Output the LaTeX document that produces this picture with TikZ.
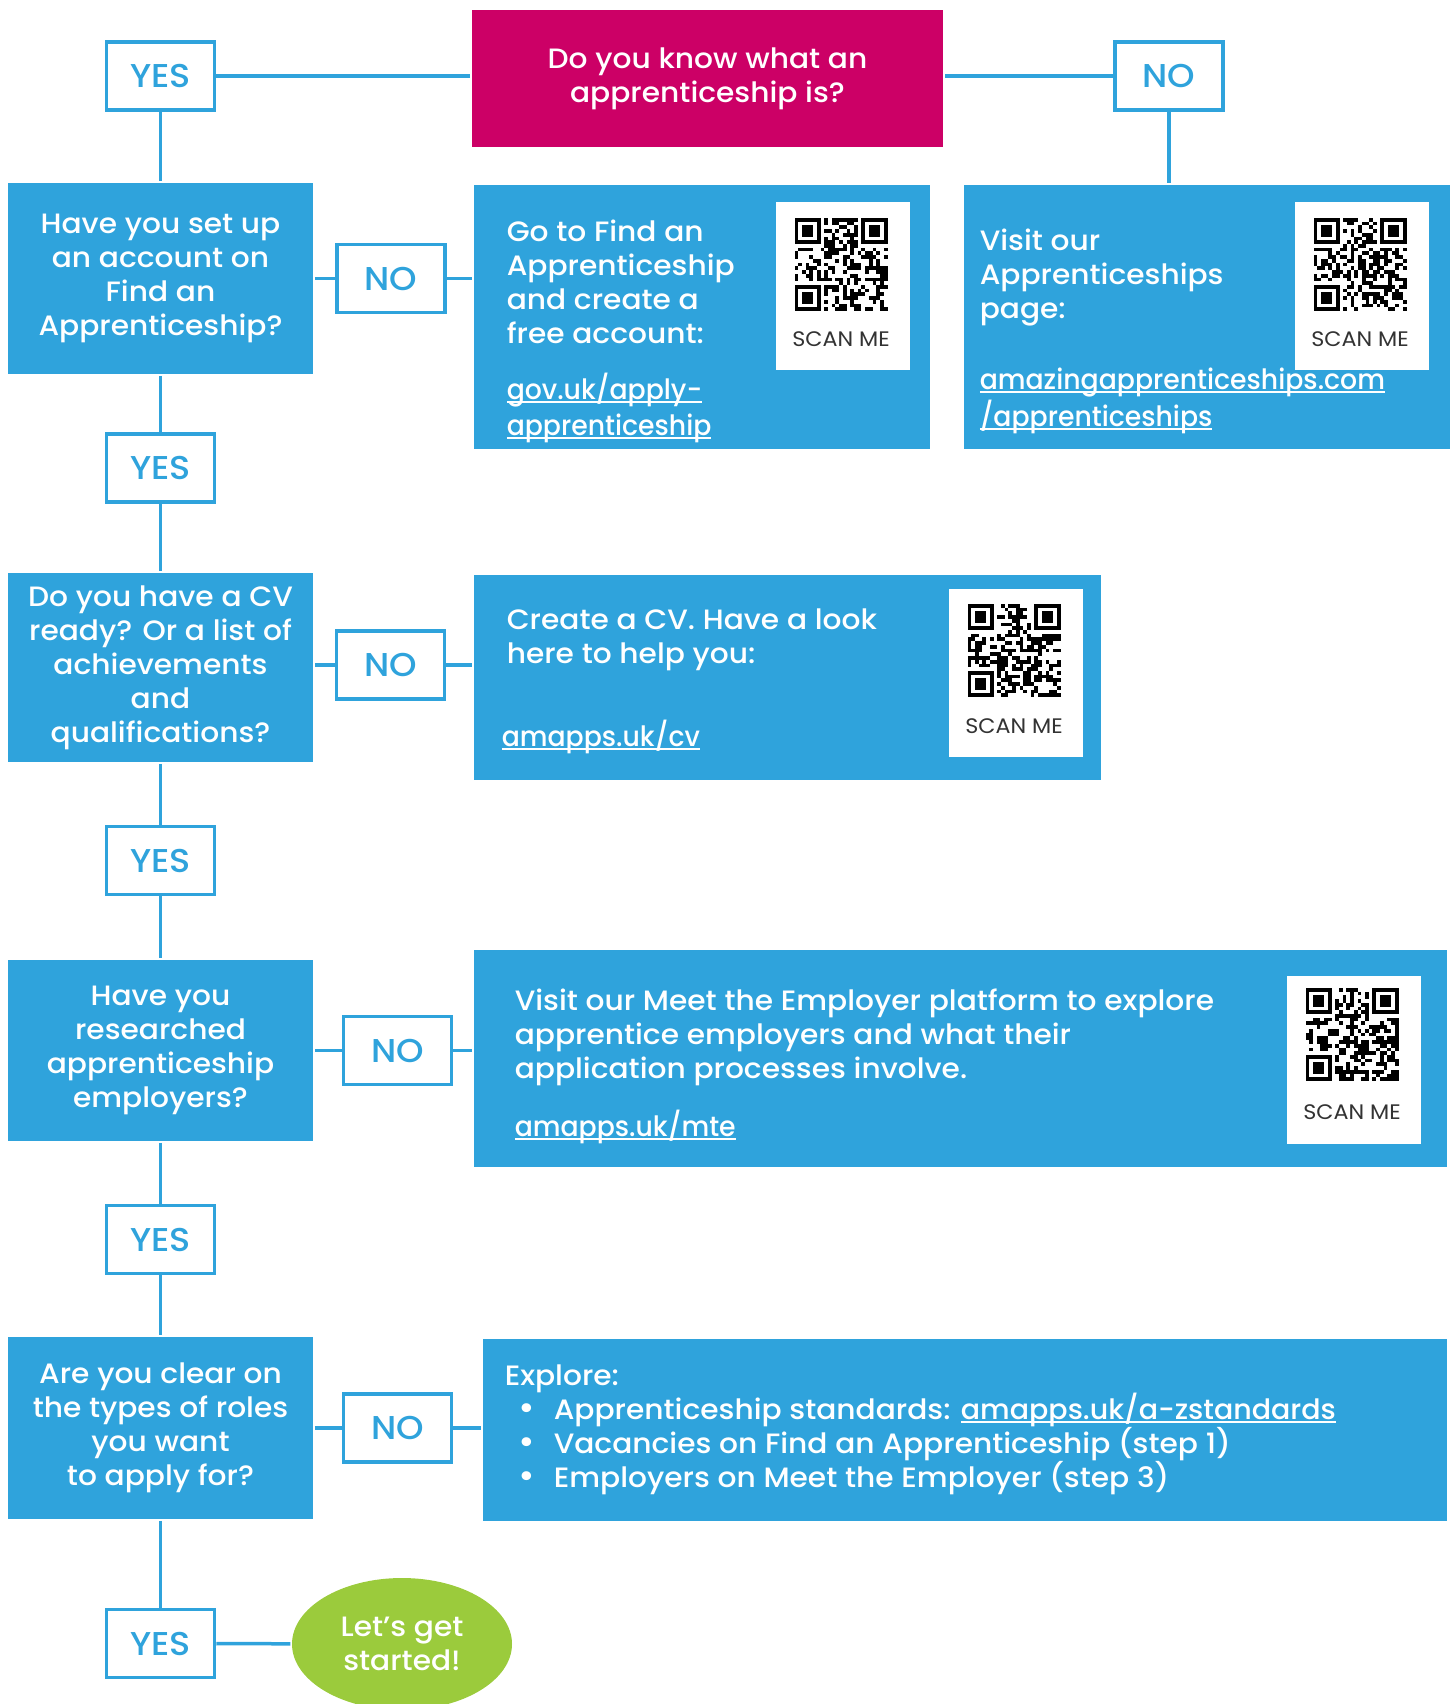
\documentclass[tikz,border=0pt]{standalone}
\usepackage{graphicx}
\usepackage{fontspec}
\setmainfont{Poppins}[UprightFont={* Medium},FakeStretch=1.06]
\newfontfamily\scanfont{Poppins}[FakeStretch=1.06]
\usetikzlibrary{shapes.geometric}
\definecolor{apblue}{HTML}{2FA3DC}
\definecolor{appink}{HTML}{CC0066}
\definecolor{apgreen}{HTML}{9BCB3C}
\definecolor{scangrey}{HTML}{333333}
\newcommand{\bigtxt}{\fontsize{28}{34}\selectfont}
\newcommand{\lnk}[2][0.9]{\setbox0\hbox{\scalebox{#1}[1]{#2}}\rlap{\rule[-4pt]{\wd0}{2pt}}\box0}
\newcommand{\blt}{\hspace*{14pt}\makebox[35pt][l]{\fontsize{34}{34}\selectfont\textbullet}}

% a made-up qr pattern, 25 x 25 modules
\tikzset{
  qr/.pic={
    \foreach \fx/\fy in {0/0,18/0,0/18}{
      \fill[black] (\fx,\fy) rectangle ++(7,7);
      \fill[white] (\fx+1,\fy+1) rectangle ++(5,5);
      \fill[black] (\fx+2,\fy+2) rectangle ++(3,3);
    }
    \foreach \i in {0,...,24}{
      \foreach \j in {0,...,24}{
        \pgfmathtruncatemacro\bit{((\i<8 && \j<8) || (\i>16 && \j<8) || (\i<8 && \j>16)) ? 0 : (rnd>0.5)}
        \ifnum\bit=1 \fill[black] (\i,\j) rectangle ++(1,1); \fi
      }
    }
  }
}

\begin{document}
\begin{tikzpicture}[x=1pt,y=-1pt,line width=3.5pt,
    qbox/.style={fill=apblue,text=white,align=center,minimum width=305pt,font=\bigtxt,inner sep=0pt},
    ansbox/.style={draw=apblue,fill=white,text=apblue,minimum width=108pt,minimum height=68pt,inner sep=0pt,font=\fontsize{33}{38}\selectfont},
    infobox/.style={fill=apblue,inner sep=0pt,anchor=north west},
    scanbox/.style={fill=white,inner sep=0pt,anchor=north west,minimum width=134pt,minimum height=168pt},
    scantxt/.style={text=scangrey,font=\scanfont\fontsize{21}{24}\selectfont,inner sep=0pt},
    infotxt/.style={text=white,align=left,anchor=north west,inner sep=0pt,font=\bigtxt}]
  \useasboundingbox (0,0) rectangle (1453,1704);

  % question 0
  \node[fill=appink,text=white,minimum width=471pt,minimum height=137pt,align=center,font=\bigtxt] (ask) at (707.5,78.5) {Do you know what an\\apprenticeship is?};
  \node[ansbox] (yes0) at (160.5,76) {YES};
  \node[ansbox] (no0) at (1169,76) {NO};

  % question 1
  \node[qbox,minimum height=191pt] (q1) at (160.5,278.5) {Have you set up\\an account on\\Find an\\Apprenticeship?};
  \node[ansbox] (no1) at (391,278.5) {NO};
  \node[infobox,minimum width=456pt,minimum height=264pt] (go) at (472,183) {};
  \node[scanbox] (goscan) at (774,200) {};
  \pgfmathsetseed{11}
  \pic[scale=3.72] at (794.5,218) {qr};
  \node[scantxt] (goscantxt) at (841,339) {SCAN ME};
  \node[infotxt] (gotxt) at (505,218) {Go to Find an\\Apprenticeship\\and create a\\free account:};
  \node[infotxt] (golnk) at (505,371) {\lnk{gov.uk/apply-}\\[2pt]\lnk{apprenticeship}};

  \node[infobox,minimum width=486pt,minimum height=264pt] (visit) at (962,183) {};
  \node[scanbox] (visitscan) at (1293,200) {};
  \pgfmathsetseed{23}
  \pic[scale=3.72] at (1313.5,218) {qr};
  \node[scantxt] (visitscantxt) at (1360,339) {SCAN ME};
  \node[infotxt] (visittxt) at (978,227) {Visit our\\Apprenticeships\\page:};
  \node[infotxt] (visitlnk) at (978,366) {\lnk{amazingapprenticeships.com}\\[2pt]\lnk{/apprenticeships}};

  % question 2
  \node[ansbox] (yes2) at (160.5,468) {YES};
  \node[qbox,minimum height=189pt] (q2) at (160.5,667.5) {Do you have a CV\\ready? Or a list of\\achievements\\and\\qualifications?};
  \node[ansbox] (no2) at (390.5,665) {NO};
  \node[infobox,minimum width=627pt,minimum height=205pt] (cv) at (472,573) {};
  \node[scanbox] (cvscan) at (947,587) {};
  \pgfmathsetseed{37}
  \pic[scale=3.72] at (967.5,604) {qr};
  \node[scantxt] (cvscantxt) at (1014,726) {SCAN ME};
  \node[infotxt] (cvtxt) at (505,607) {Create a CV. Have a look\\here to help you:};
  \node[infotxt] (cvlnk) at (500,718) {\lnk{amapps.uk/cv}};

  % question 3
  \node[ansbox] (yes3) at (160.5,860.5) {YES};
  \node[qbox,minimum height=181pt] (q3) at (160.5,1050.5) {Have you\\researched\\apprenticeship\\employers?};
  \node[ansbox] (no3) at (397.5,1050.5) {NO};
  \node[infobox,minimum width=973pt,minimum height=217pt] (mte) at (472,948) {};
  \node[scanbox] (mtescan) at (1285,974) {};
  \pgfmathsetseed{41}
  \pic[scale=3.72] at (1305.5,988) {qr};
  \node[scantxt] (mtescantxt) at (1352,1112) {SCAN ME};
  \node[infotxt] (mtetxt) at (513,987) {Visit our Meet the Employer platform to explore\\apprentice employers and what their\\application processes involve.};
  \node[infotxt] (mtelnk) at (513,1108) {\lnk{amapps.uk/mte}};

  % question 4
  \node[ansbox] (yes4) at (160.5,1239.5) {YES};
  \node[qbox,minimum height=182pt] (q4) at (160.5,1428) {Are you clear on\\the types of roles\\you want\\to apply for?};
  \node[ansbox] (no4) at (397.5,1428) {NO};
  \node[infobox,minimum width=964pt,minimum height=182pt] (explore) at (481,1337) {};
  \node[infotxt] (exploretxt) at (503,1363) {Explore:\\
    \blt Apprenticeship standards: \lnk[0.96]{amapps.uk/a-zstandards}\\
    \blt Vacancies on Find an Apprenticeship (step 1)\\
    \blt Employers on Meet the Employer (step 3)};

  % done
  \node[ansbox] (yes5) at (160.5,1643.5) {YES};
  \node[ellipse,fill=apgreen,text=white,minimum width=220pt,minimum height=132pt,align=center,inner sep=0pt,font=\bigtxt] (start) at (402,1644) {Let’s get\\started!};

  % connectors
  \draw[apblue] (yes0) -- (yes0 -| ask.west);
  \draw[apblue] (no0) -- (no0 -| ask.east);
  \draw[apblue] (yes0) -- (q1);
  \draw[apblue] (no0) -- (no0 |- visit.north);
  \draw[apblue] (q1) -- (no1);
  \draw[apblue] (no1) -- (no1 -| go.west);
  \draw[apblue] (q1) -- (yes2);
  \draw[apblue] (yes2) -- (q2);
  \draw[apblue] (q2.east |- no2) -- (no2);
  \draw[apblue] (no2) -- (no2 -| cv.west);
  \draw[apblue] (q2) -- (yes3);
  \draw[apblue] (yes3) -- (q3);
  \draw[apblue] (q3) -- (no3);
  \draw[apblue] (no3) -- (no3 -| mte.west);
  \draw[apblue] (q3) -- (yes4);
  \draw[apblue] (yes4) -- (q4);
  \draw[apblue] (q4) -- (no4);
  \draw[apblue] (no4) -- (no4 -| explore.west);
  \draw[apblue] (q4) -- (yes5);
  \draw[apblue] (yes5) -- (start);
\end{tikzpicture}
\end{document}
